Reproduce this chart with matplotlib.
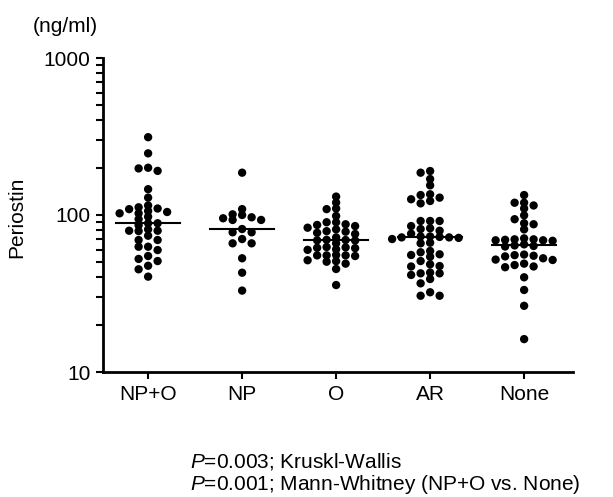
import matplotlib.pyplot as plt
import numpy as np

plt.rcParams['font.family'] = ['Liberation Sans', 'DejaVu Sans']
plt.rcParams['mathtext.fontset'] = 'custom'
plt.rcParams['mathtext.rm'] = 'Liberation Sans'
plt.rcParams['mathtext.it'] = 'Liberation Sans:italic'

groups = ['NP+O', 'NP', 'O', 'AR', 'None']

np_o = [313, 247, 198, 191, 200, 146, 129, 106, 102.5, 112, 109, 110, 102.5, 115,
        104.5, 97.5, 94, 86, 88.6, 88.6, 79.4, 81, 79, 79.4, 73.8, 69.3, 69.3,
        62.8, 62.8, 59.8, 54.8, 50.9, 52.5, 47.5, 45.1, 40.5]
np_only = [186, 109, 100, 96.7, 93, 93, 95.3, 101, 81.4, 77.6, 77.6, 70.3, 66, 66,
           53, 42.9, 33]
o_only = [131, 120, 110, 109, 98.6, 89.9, 87.3, 86.4, 83, 85, 89.9, 81, 78.3, 78.9,
          75.7, 77, 72, 69.3, 69.5, 69, 68.8, 66, 62.2, 62.5, 61.5, 61.8, 60.5, 60,
          55.6, 55.3, 54.8, 55.3, 55.3, 50.4, 50.8, 51.5, 49, 45.3, 35.8]
ar = [186, 190.6, 169.5, 154.5, 134, 126, 118.6, 122.8, 129, 135.5, 91.6, 91.6, 91.6,
      82.3, 79.4, 81.4, 85, 76, 72, 70.3, 72.5, 71.5, 72, 73, 73, 66.6, 66, 56.2,
      54.2, 59, 55.6, 57.9, 47.3, 50.9, 47, 48.5, 42.5, 43, 41.5, 42.5, 39.1, 36.7,
      32.2, 30.6, 30.6]
none = [134, 119.7, 115, 110, 119.7, 99.5, 94, 88.6, 87.3, 81,
        70, 69, 70, 71, 69.5, 68.5, 69, 65, 64, 63, 63.5,
        56, 55.5, 55, 54.5, 51.7, 46.5, 47, 48, 49, 52, 53,
        40.1, 33.3, 26.4, 16.2]
data = [np_o, np_only, o_only, ar, none]

fig = plt.figure(figsize=(6.13, 4.97), dpi=100)
ax = fig.add_axes([103 / 613, 125 / 497, 470 / 613, 314 / 497])
ax.set_yscale('log')
ax.set_ylim(10, 1000)
ax.set_xlim(-0.48, 4.52)


def swarm_offsets(values, step_px=9.5, dot_px=5.5):
    # grid-like beeswarm in pixel space, Prism style
    vals = np.asarray(values, dtype=float)
    ys = ax.transData.transform(np.column_stack([np.zeros(len(vals)), vals]))[:, 1]
    unit_px = ax.transData.transform([[1, 10]])[0, 0] - ax.transData.transform([[0, 10]])[0, 0]
    cols = np.zeros(len(vals))
    placed = []
    candidates = [0] + [s * k for k in range(1, 12) for s in (-1, 1)]
    for i in np.argsort(vals)[::-1]:
        for k in candidates:
            if all(not (c == k and abs(ys[i] - y) < dot_px) for c, y in placed):
                cols[i] = k
                placed.append((k, ys[i]))
                break
    return cols * step_px / unit_px


for i, vals in enumerate(data):
    xs = i + swarm_offsets(vals)
    ax.scatter(xs, vals, s=36, color='black', edgecolors='none', zorder=3)
    med = np.median(vals)
    ax.plot([i - 0.34, i + 0.34], [med, med], color='black', lw=1.5, zorder=2)

for side in ['top', 'right']:
    ax.spines[side].set_visible(False)
for side in ['left', 'bottom']:
    ax.spines[side].set_linewidth(2)

fs = 15
ax.set_xticks(range(len(groups)))
ax.set_xticklabels(groups, fontsize=fs)
ax.set_yticks([10, 100, 1000])
ax.set_yticklabels(['10', '100', '1000'], fontsize=fs)
ax.tick_params(axis='both', which='major', direction='out', length=5, width=1.5, pad=4)
ax.tick_params(axis='y', which='minor', direction='out', length=5, width=1.5)
ax.yaxis.set_minor_formatter(plt.NullFormatter())

fig.text(17 / 613, 1 - 217 / 497, 'Periostin', rotation=90, fontsize=fs,
         ha='center', va='center')
fig.text(33 / 613, 1 - 26 / 497, '(ng/ml)', fontsize=fs, ha='left', va='center')
fig.text(190 / 613, 1 - 462 / 497, '$P$=0.003; Kruskl-Wallis', fontsize=fs,
         ha='left', va='center')
fig.text(190 / 613, 1 - 484 / 497, '$P$=0.001; Mann-Whitney (NP+O vs. None)',
         fontsize=fs, ha='left', va='center')

fig.savefig('out.png', dpi=100)
